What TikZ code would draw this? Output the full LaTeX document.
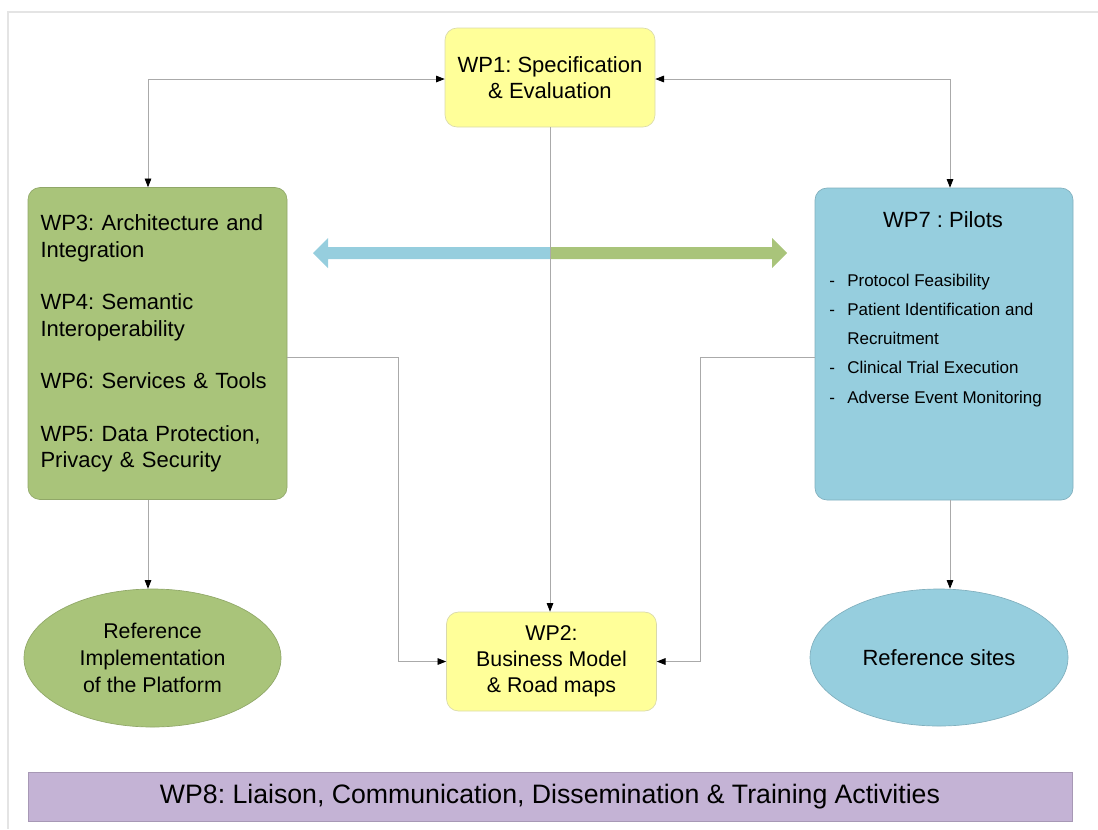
\documentclass[tikz,border=0pt]{standalone}
\usepackage{fontspec}
\setmainfont{Liberation Sans}
\usetikzlibrary{arrows.meta,shapes.geometric}
\frenchspacing

\definecolor{wpyellow}{RGB}{255,255,153}
\definecolor{wpgreen}{RGB}{169,196,122}
\definecolor{wpblue}{RGB}{150,206,222}
\definecolor{wppurple}{RGB}{196,179,213}
\definecolor{linkgray}{RGB}{170,170,170}
\definecolor{framegray}{RGB}{228,228,228}

\begin{document}
\begin{tikzpicture}[x=0.75pt,y=-0.75pt,
  wpbox/.style={rounded corners=9pt, inner sep=0pt, line width=0.5pt},
  ybox/.style={wpbox, draw=wpyellow!75!black!60, fill=wpyellow,
    minimum width=157.5pt, minimum height=74.25pt, align=center,
    font=\fontsize{16.5}{19.5}\selectfont},
  gbox/.style={wpbox, draw=wpgreen!85!black, fill=wpgreen},
  bbox/.style={wpbox, draw=wpblue!85!black, fill=wpblue},
  refoval/.style={ellipse, inner sep=0pt, line width=0.5pt, align=center,
    font=\fontsize{16}{20}\selectfont},
  pilotitem/.style={anchor=base west, inner sep=0pt,
    font=\fontsize{12.75}{15}\selectfont},
  link/.style={draw=linkgray, line width=0.6pt},
  tip/.style={-{Triangle[length=6.5pt,width=5pt,color=black]}},
  tips/.style={{Triangle[length=6.5pt,width=5pt,color=black]}-{Triangle[length=6.5pt,width=5pt,color=black]}},
]
\useasboundingbox (0,0) rectangle (1098,829);

% light page frame
\draw[framegray, line width=1pt] (8,829) -- (8,12) -- (1098,12);

% work package boxes
\node[ybox] (wp1) at (550,77.5) {WP1: Specification\\\& Evaluation};
\node[ybox, font=\fontsize{16}{19.5}\selectfont] (wp2) at (551.5,661.5) {WP2:\\Business Model\\\& Road maps};

\node[gbox, minimum width=194.25pt, minimum height=234pt,
      text width=175.5pt, align=left,
      font=\fontsize{16.5}{19.75}\selectfont] (tech) at (157.5,343.5)
  {WP3: Architecture and\\Integration\\[19.75pt]
   WP4: Semantic\\Interoperability\\[19.75pt]
   WP6: Services \& Tools\\[19.75pt]
   WP5: Data Protection,\\Privacy \& Security};

\node[bbox, minimum width=193.5pt, minimum height=234pt] (wp7) at (944,344) {};
\node[inner sep=0pt, anchor=base, font=\fontsize{16.5}{19.5}\selectfont] (wp7title) at (943,227) {WP7 : Pilots};
\node[pilotitem] (p1) at (829,286) {\makebox[13.5pt][l]{-}Protocol Feasibility};
\node[pilotitem] (p2) at (829,315.3) {\makebox[13.5pt][l]{-}Patient Identification and};
\node[pilotitem] (p3) at (829,344.6) {\makebox[13.5pt][l]{}Recruitment};
\node[pilotitem] (p4) at (829,373.9) {\makebox[13.5pt][l]{-}Clinical Trial Execution};
\node[pilotitem] (p5) at (829,403.2) {\makebox[13.5pt][l]{-}Adverse Event Monitoring};

% outcomes
\node[refoval, draw=wpgreen!85!black, fill=wpgreen, minimum width=192.75pt, minimum height=103.5pt] (platform) at (152.5,658)
  {Reference\\Implementation\\of the Platform};
\node[refoval, draw=wpblue!85!black, fill=wpblue, minimum width=193.5pt, minimum height=102.75pt,
      font=\fontsize{16.5}{19}\selectfont] (sites) at (939,657.5) {Reference sites};

% transversal work package
\node[fill=wppurple, draw=wppurple!85!black, line width=0.4pt, inner sep=0pt,
      minimum width=783pt, minimum height=36.75pt,
      font=\fontsize{20}{24}\selectfont] (wp8) at (550,796.5)
  {\raisebox{-2pt}{WP8: Liaison, Communication, Dissemination \& Training Activities}};

% exchange arrow between technical work and pilots
\fill[wpblue] (313,253) -- (328,238) -- (328,247) -- (550,247) -- (550,259) -- (328,259) -- (328,268) -- cycle;
\fill[wpgreen] (550,247) -- (772,247) -- (772,238) -- (787,253) -- (772,268) -- (772,259) -- (550,259) -- cycle;

% connectors
\coordinate (c1) at (148,79);
\coordinate (c2) at (950,79);
\draw[link, tips] (wp1.west |- c1) -| (tech.north -| c1);
\draw[link, tips] (wp1.east |- c2) -| (wp7.north -| c2);
\draw[link, tip] (wp1.south) -- (wp2.north -| wp1.south);

\coordinate (c3) at (398,357);
\coordinate (c4) at (700,357);
\draw[link, tip] (tech.east |- c3) -| (c3 |- wp2.west) -- (wp2.west);
\draw[link, tip] (wp7.west |- c4) -| (c4 |- wp2.east) -- (wp2.east);

\draw[link, tip] (tech.south -| c1) -- (platform.north -| c1);
\draw[link, tip] (wp7.south -| c2) -- (sites.north -| c2);
\end{tikzpicture}
\end{document}
